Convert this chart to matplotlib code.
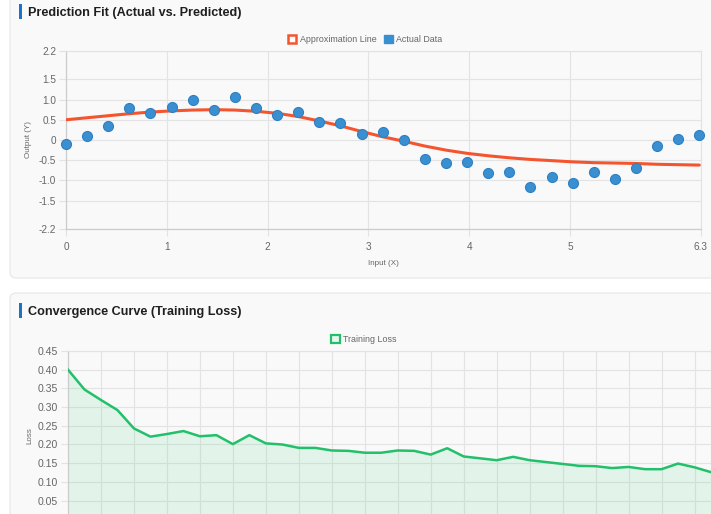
import numpy as np
import matplotlib
matplotlib.use("Agg")
import matplotlib.pyplot as plt
from matplotlib.patches import FancyBboxPatch, Rectangle, Patch
from matplotlib.transforms import IdentityTransform

plt.rcParams['font.family'] = ['Liberation Sans', 'DejaVu Sans']

# ---------------- data ----------------
x_input = np.linspace(0, 2 * np.pi, 31)
actual_y = [-0.10, 0.10, 0.34, 0.80, 0.66, 0.81, 1.00, 0.75, 1.06, 0.78,
            0.63, 0.68, 0.44, 0.41, 0.14, 0.19, 0.00, -0.48, -0.58, -0.55,
            -0.82, -0.80, -1.15, -0.91, -1.06, -0.78, -0.97, -0.70, -0.16, 0.03, 0.12]
approx_y = [0.50, 0.55, 0.60, 0.65, 0.69, 0.72, 0.74, 0.75, 0.74, 0.71,
            0.66, 0.58, 0.47, 0.35, 0.21, 0.08, -0.03, -0.15, -0.25, -0.33,
            -0.39, -0.44, -0.48, -0.51, -0.54, -0.56, -0.57, -0.58, -0.60, -0.61, -0.62]
y_ticks_top = [-2.2, -1.5, -1.0, -0.5, 0, 0.5, 1.0, 1.5, 2.2]
y_ticklabels_top = ['-2.2', '-1.5', '-1.0', '-0.5', '0', '0.5', '1.0', '1.5', '2.2']
x_ticks_top = [0, 1, 2, 3, 4, 5, 6.3]
x_ticklabels_top = ['0', '1', '2', '3', '4', '5', '6.3']

epochs = list(range(1, 41))
loss = [0.400, 0.347, 0.319, 0.292, 0.243, 0.221, 0.228, 0.236, 0.222, 0.225,
        0.201, 0.225, 0.203, 0.200, 0.191, 0.191, 0.184, 0.183, 0.178, 0.178,
        0.184, 0.183, 0.173, 0.190, 0.168, 0.163, 0.158, 0.167, 0.158, 0.153,
        0.148, 0.143, 0.142, 0.137, 0.140, 0.134, 0.134, 0.149, 0.139, 0.126]
loss_ticks = [0.05, 0.10, 0.15, 0.20, 0.25, 0.30, 0.35, 0.40, 0.45]

# ---------------- figure ----------------
W, H = 711, 514
fig = plt.figure(figsize=(W / 100, H / 100), dpi=100, facecolor='white')
pix = IdentityTransform()

def card(x0, y0, x1, y1):
    p = FancyBboxPatch((x0, H - y1), x1 - x0, y1 - y0,
                       boxstyle="round,pad=0,rounding_size=6",
                       transform=pix, facecolor='#f9f9f9', edgecolor='#e6e6e6',
                       linewidth=0.8, zorder=-5)
    fig.patches.append(p)

card(10, -20, 730, 278)
card(10, 293, 730, 540)

def title(y, text):
    fig.patches.append(Rectangle((19, H - y - 7.5), 2.5, 15, transform=pix,
                                 facecolor='#1a73c8', edgecolor='none', zorder=1))
    fig.text(28 / W, 1 - (y + 1.5) / H, text, fontsize=9.1, fontweight='bold',
             color='#1f1f1f', va='center', ha='left')

title(11.5, 'Prediction Fit (Actual vs. Predicted)')
title(310, 'Convergence Curve (Training Loss)')

grid_c = '#e3e3e3'
spine_c = '#cccccc'
tick_c = '#666666'

def style_axes(ax):
    ax.set_facecolor('none')
    for s in ['top', 'right']:
        ax.spines[s].set_color(grid_c)
        ax.spines[s].set_linewidth(0.8)
    for s in ['left', 'bottom']:
        ax.spines[s].set_color(spine_c)
        ax.spines[s].set_linewidth(0.9)
    ax.tick_params(axis='both', colors=grid_c, labelcolor=tick_c, labelsize=7.2,
                   length=5, width=0.8)
    ax.tick_params(axis='y', pad=2)
    ax.tick_params(axis='x', pad=4)
    ax.grid(True, color=grid_c, linewidth=0.8)
    ax.set_axisbelow(True)

# ---------------- top chart ----------------
ax1 = fig.add_axes([66 / W, 1 - 229 / H, 635 / W, 178 / H])
style_axes(ax1)
ax1.plot(x_input, approx_y, color='#f4552f', linewidth=2.2, zorder=3,
         solid_capstyle='round')
ax1.scatter(x_input, actual_y, s=52, color='#3a8fd0', edgecolor='#2f80c2',
            linewidth=0.8, zorder=4, clip_on=False)
ax1.set_xlim(0, 6.3)
ax1.set_ylim(-2.2, 2.2)
ax1.set_yticks(y_ticks_top)
ax1.set_yticklabels(y_ticklabels_top)
ax1.set_xticks(x_ticks_top)
ax1.set_xticklabels(x_ticklabels_top)
ax1.set_xlabel('Input (X)', fontsize=5.8, color=tick_c, labelpad=6)
ax1.set_ylabel('Output (Y)', fontsize=5.8, color=tick_c, labelpad=5)

h1 = [Patch(facecolor='white', edgecolor='#f4552f', linewidth=1.8, label='Approximation Line'),
      Patch(facecolor='#3a8fd0', edgecolor='#3a8fd0', linewidth=1.0, label='Actual Data')]
leg1 = ax1.legend(handles=h1, loc='lower center', bbox_to_anchor=(0.471, 1.005), ncol=2,
                  frameon=False, fontsize=6.4, handlelength=1.0, handleheight=1.0,
                  handletextpad=0.4, columnspacing=0.8, borderaxespad=0.3)
for t in leg1.get_texts():
    t.set_color(tick_c)

# ---------------- bottom chart ----------------
y_top = 351
px_per = 18.7 / 0.05
y_zero = y_top + 0.45 * px_per
ax2 = fig.add_axes([68 / W, 1 - y_zero / H, 643 / W, (y_zero - y_top) / H])
style_axes(ax2)
idx = np.arange(len(epochs))
ax2.fill_between(idx, loss, 0, color='#2ecc71', alpha=0.11, linewidth=0, zorder=2)
ax2.plot(idx, loss, color='#22c06a', linewidth=1.8, zorder=3)
ax2.set_xlim(0, len(epochs) - 1)
ax2.set_ylim(0, 0.45)
ax2.set_yticks(loss_ticks)
ax2.set_yticklabels([f'{v:.2f}' for v in loss_ticks])
ax2.set_xticks(idx[::2])
ax2.tick_params(axis='x', labelbottom=False)
ax2.tick_params(axis='y', labelsize=7.6)
ax2.set_ylabel('Loss', fontsize=5.8, color=tick_c, labelpad=3)

h2 = [Patch(facecolor='#e8f7ee', edgecolor='#22c06a', linewidth=1.6, label='Training Loss')]
leg2 = ax2.legend(handles=h2, loc='lower center', bbox_to_anchor=(0.46, 1.005), ncol=1,
                  frameon=False, fontsize=6.4, handlelength=1.0, handleheight=1.0,
                  handletextpad=0.4, borderaxespad=0.3)
for t in leg2.get_texts():
    t.set_color(tick_c)

fig.savefig('out.png', dpi=100, facecolor='white')
